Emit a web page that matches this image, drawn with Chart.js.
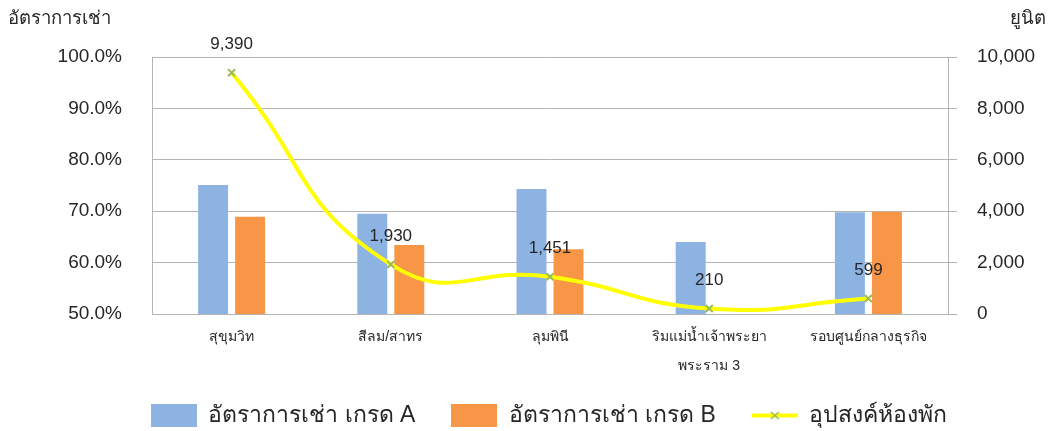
<!DOCTYPE html>
<html>
<head>
    <title>อัตราการเช่าและอุปสงค์ห้องพัก</title>
    <script src="https://cdn.jsdelivr.net/npm/chart.js"></script>
    <style>
        body {
            margin: 0;
            background: #fff;
            font-family: "Liberation Sans", Arial, sans-serif;
        }
        #wrap {
            width: 1052px;
            height: 431px;
            position: relative;
        }
    </style>
</head>
<body>
<div id="wrap"><canvas id="chart"></canvas></div>

<script>
    // chart data
    const areas = ["สุขุมวิท", "สีลม/สาทร", "ลุมพินี", ["ริมแม่น้ำเจ้าพระยา", "พระราม 3"], "รอบศูนย์กลางธุรกิจ"];
    const gradeA = [75.1, 69.5, 74.3, 64.0, 69.8];
    const gradeB = [68.9, 63.4, 62.6, 50.0, 69.9];
    const demand = [9390, 1930, 1451, 210, 599];

    const rateTicks = [50, 60, 70, 80, 90, 100];
    const unitTicks = [0, 2000, 4000, 6000, 8000, 10000];

    const blue = "#8db3e2";
    const orange = "#f79646";
    const yellow = "#ffff00";
    const green = "#9bbb59";
    const gridGray = "#b4b4b4";
    const textColor = "#262626";
    const fontFamily = "'Liberation Sans', Arial, sans-serif";

    // legend swatches drawn to small canvases
    function swatch(color) {
        const c = document.createElement("canvas");
        c.width = 46; c.height = 23;
        const g = c.getContext("2d");
        g.fillStyle = color;
        g.fillRect(0, 0, 46, 23);
        return c;
    }
    function lineSwatch() {
        const c = document.createElement("canvas");
        c.width = 46; c.height = 23;
        const g = c.getContext("2d");
        g.strokeStyle = yellow;
        g.lineWidth = 4;
        g.beginPath(); g.moveTo(0, 11.5); g.lineTo(46, 11.5); g.stroke();
        g.strokeStyle = green;
        g.lineWidth = 1.5;
        g.beginPath();
        g.moveTo(19, 8); g.lineTo(27, 15);
        g.moveTo(27, 8); g.lineTo(19, 15);
        g.stroke();
        return c;
    }
    const legendIcons = [swatch(blue), swatch(orange), lineSwatch()];
    const legendGap = "\u00a0\u00a0\u00a0\u00a0\u00a0"; // spacing after the first two items

    // value labels above the demand line
    const lineLabels = {
        id: "lineLabels",
        afterDatasetsDraw(chart) {
            const ctx = chart.ctx;
            const meta = chart.getDatasetMeta(2);
            ctx.save();
            ctx.font = "17px " + fontFamily;
            ctx.fillStyle = textColor;
            ctx.textAlign = "center";
            ctx.textBaseline = "middle";
            meta.data.forEach((pt, i) => {
                ctx.fillText(demand[i].toLocaleString("en-US"), pt.x, pt.y - 28);
            });
            ctx.restore();
        }
    };

    // axis titles at the top corners
    const axisTitles = {
        id: "axisTitles",
        afterDraw(chart) {
            const ctx = chart.ctx;
            ctx.save();
            ctx.font = "18.5px " + fontFamily;
            ctx.fillStyle = textColor;
            ctx.textBaseline = "middle";
            ctx.textAlign = "left";
            ctx.fillText("อัตราการเช่า", 8, 19);
            ctx.textAlign = "right";
            ctx.fillText("ยูนิต", 1046, 19);
            ctx.restore();
        }
    };

    new Chart(document.getElementById("chart"), {
        type: "bar",
        data: {
            labels: areas,
            datasets: [
                {
                    label: "อัตราการเช่า เกรด A",
                    data: gradeA,
                    backgroundColor: blue,
                    yAxisID: "y",
                    order: 1,
                    categoryPercentage: 0.465,
                    barPercentage: 0.81
                },
                {
                    label: "อัตราการเช่า เกรด B",
                    data: gradeB,
                    backgroundColor: orange,
                    yAxisID: "y",
                    order: 1,
                    categoryPercentage: 0.465,
                    barPercentage: 0.81
                },
                {
                    type: "line",
                    label: "อุปสงค์ห้องพัก",
                    data: demand,
                    yAxisID: "y1",
                    order: 0,
                    borderColor: yellow,
                    borderWidth: 4,
                    tension: 0.5,
                    pointStyle: "crossRot",
                    pointRadius: 5,
                    pointBorderColor: green,
                    pointBorderWidth: 2,
                    pointBackgroundColor: green
                }
            ]
        },
        options: {
            responsive: true,
            maintainAspectRatio: false,
            animation: false,
            layout: {
                padding: { top: 57, left: 46, right: 0, bottom: -6 }
            },
            scales: {
                x: {
                    grid: { display: true, drawOnChartArea: false, drawTicks: false },
                    border: { display: true, color: gridGray },
                    ticks: {
                        color: textColor,
                        font: { family: fontFamily, size: 14, lineHeight: 2.05 },
                        padding: 9,
                        maxRotation: 0,
                        autoSkip: false
                    },
                    afterFit(scale) { scale.height = 86; }
                },
                y: {
                    position: "left",
                    min: 50,
                    max: 100,
                    afterBuildTicks(scale) { scale.ticks = rateTicks.map(v => ({ value: v })); },
                    grid: { color: gridGray, drawTicks: false },
                    border: { display: true, color: gridGray },
                    ticks: {
                        color: textColor,
                        padding: 30,
                        font: { family: fontFamily, size: 19 },
                        callback: v => v.toFixed(1) + "%"
                    },
                    afterFit(scale) { scale.width = 106; }
                },
                y1: {
                    position: "right",
                    min: 0,
                    max: 10000,
                    afterBuildTicks(scale) { scale.ticks = unitTicks.map(v => ({ value: v })); },
                    grid: { drawOnChartArea: false, drawTicks: true, tickLength: 9, color: gridGray },
                    border: { display: true, color: gridGray },
                    ticks: {
                        color: textColor,
                        padding: 20,
                        font: { family: fontFamily, size: 19 },
                        callback: v => v.toLocaleString("en-US")
                    },
                    afterFit(scale) { scale.width = 104; }
                }
            },
            plugins: {
                tooltip: { enabled: false },
                legend: {
                    position: "bottom",
                    labels: {
                        usePointStyle: true,
                        pointStyleWidth: 46,
                        boxHeight: 23,
                        padding: 4,
                        color: textColor,
                        font: { family: fontFamily, size: 23 },
                        sort: (a, b) => a.datasetIndex - b.datasetIndex,
                        generateLabels(chart) {
                            const items = Chart.defaults.plugins.legend.labels.generateLabels(chart);
                            items.forEach(it => {
                                it.pointStyle = legendIcons[it.datasetIndex];
                                if (it.datasetIndex < 2) it.text += legendGap;
                            });
                            return items;
                        }
                    }
                }
            }
        },
        plugins: [lineLabels, axisTitles]
    });
</script>
</body>
</html>
